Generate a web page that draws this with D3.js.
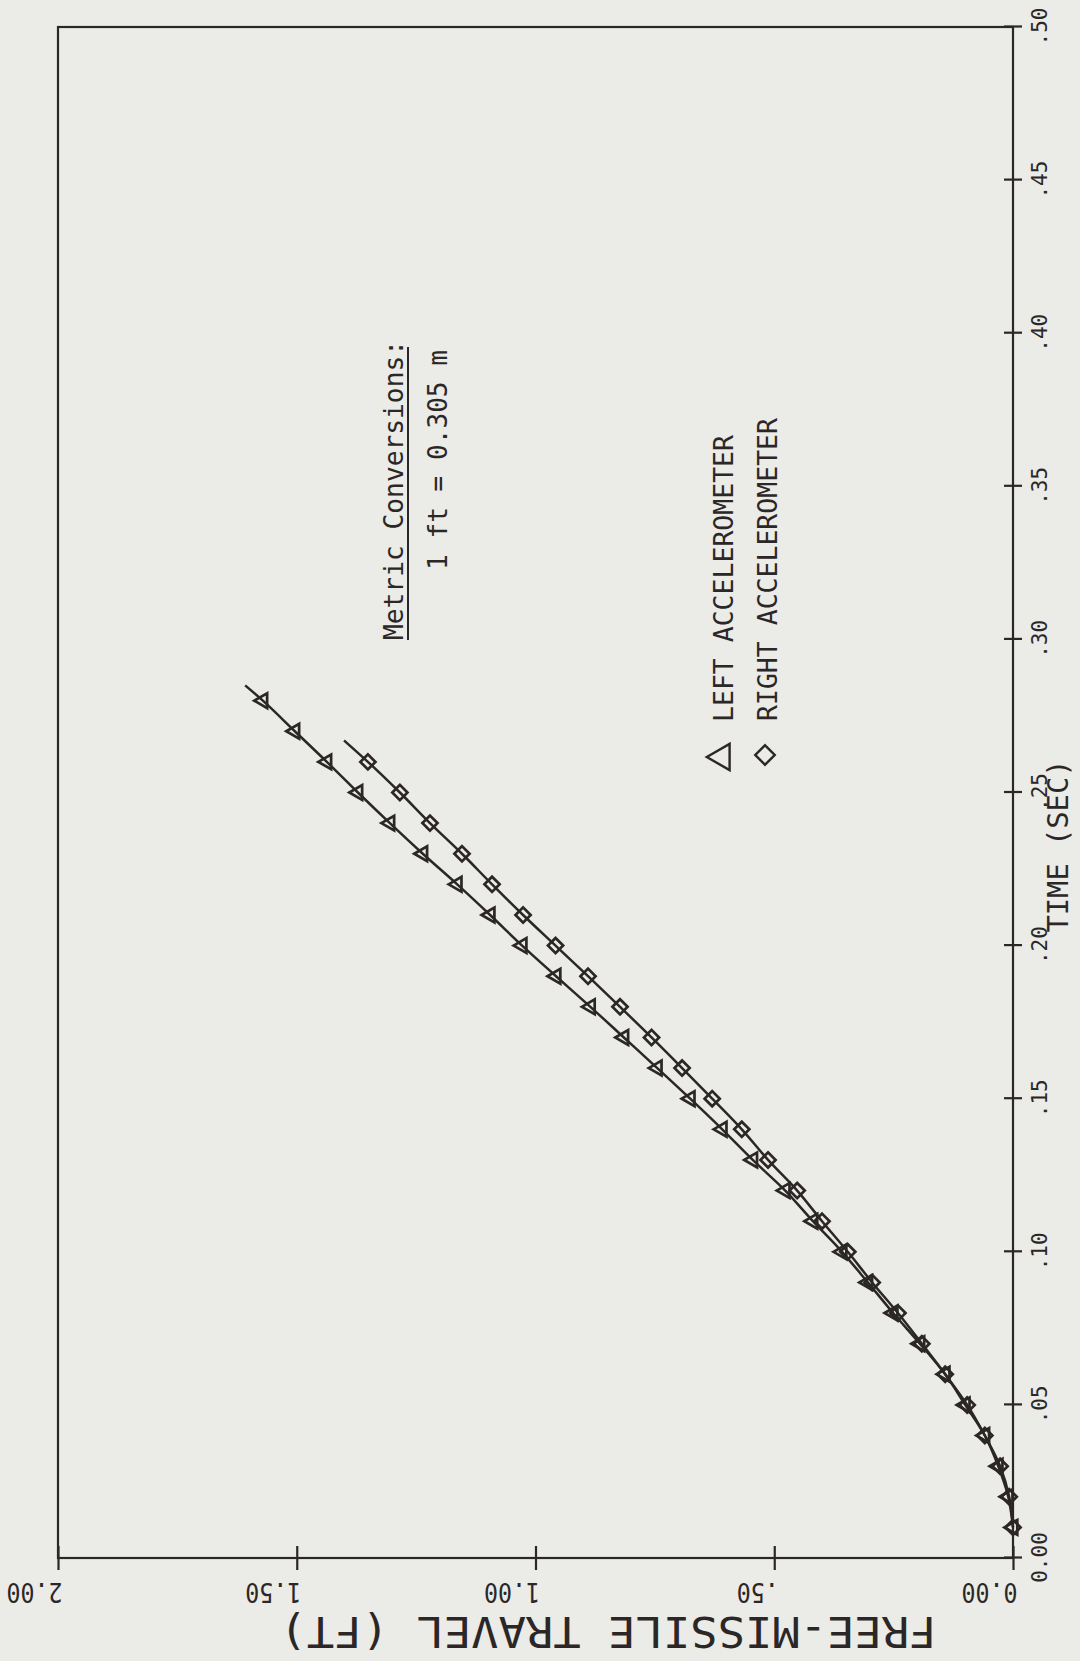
<!DOCTYPE html>
<html>
<head>
<meta charset="utf-8">
<script src="https://cdn.jsdelivr.net/npm/d3@7"></script>
<style>
  html, body { margin: 0; padding: 0; background: #ebebe7; }
  svg { display: block; }
</style>
</head>
<body>
<script>
// Free-missile travel (ft) sampled every 0.01 s
const timeLeft = [0.01,0.02,0.03,0.04,0.05,0.06,0.07,0.08,0.09,0.10,0.11,0.12,0.13,0.14,
                  0.15,0.16,0.17,0.18,0.19,0.20,0.21,0.22,0.23,0.24,0.25,0.26,0.27,0.28];
const travelLeft = [0.000,0.010,0.031,0.059,0.100,0.142,0.195,0.251,0.304,0.358,0.419,0.477,0.545,0.609,
                    0.676,0.745,0.815,0.885,0.957,1.028,1.095,1.164,1.236,1.305,1.372,1.437,1.504,1.571];
const timeRight = [0.01,0.02,0.03,0.04,0.05,0.06,0.07,0.08,0.09,0.10,0.11,0.12,0.13,
                   0.14,0.15,0.16,0.17,0.18,0.19,0.20,0.21,0.22,0.23,0.24,0.25,0.26];
const travelRight = [0.000,0.008,0.027,0.059,0.096,0.142,0.191,0.241,0.295,0.346,0.400,0.452,0.513,
                     0.568,0.630,0.693,0.757,0.823,0.890,0.958,1.026,1.091,1.154,1.221,1.284,1.351];
// where each fitted curve stops, just past its last symbol
const curveEndLeft = [0.285, 1.608];
const curveEndRight = [0.267, 1.401];

const timeTicks = [0,0.05,0.10,0.15,0.20,0.25,0.30,0.35,0.40,0.45,0.50];
const timeTickLabels = ["0.00",".05",".10",".15",".20",".25",".30",".35",".40",".45",".50"];
const travelTicks = [0,0.5,1.0,1.5,2.0];
const travelTickLabels = ["0.00",".50","1.00","1.50","2.00"];
const legendLabels = ["LEFT ACCELEROMETER","RIGHT ACCELEROMETER"];

const W = 1080, H = 1661;
const ink = "#2b2727";
const mono = "'DejaVu Sans Mono', 'Liberation Mono', monospace";

const svg = d3.select("body").append("svg").attr("width", W).attr("height", H);
svg.append("rect").attr("width", W).attr("height", H).attr("fill", "#ebebe7");

// The plot is laid out in landscape and turned a quarter turn counter-clockwise onto the page
const g = svg.append("g").attr("transform", `translate(0,${H}) rotate(-90)`);

const x = d3.scaleLinear().domain([0, 0.5]).range([103, 1634]);
const y = d3.scaleLinear().domain([0, 2]).range([1013, 58]);

// frame
g.append("rect")
  .attr("x", x(0)).attr("y", y(2))
  .attr("width", x(0.5) - x(0)).attr("height", y(0) - y(2))
  .attr("fill", "none").attr("stroke", ink).attr("stroke-width", 2.2);

// time axis
const gx = g.append("g").attr("transform", `translate(0,${y(0)})`)
  .call(d3.axisBottom(x).tickValues(timeTicks)
    .tickFormat((d, i) => timeTickLabels[i]).tickSizeOuter(0));
gx.select(".domain").remove();
gx.selectAll(".tick line").attr("y1", -9).attr("y2", 9)
  .attr("stroke", ink).attr("stroke-width", 2.2);
gx.selectAll(".tick text").attr("y", 34).attr("dy", null)
  .attr("fill", ink).attr("font-family", mono).attr("font-size", 21);

g.append("text").attr("x", 815).attr("y", 1068)
  .attr("text-anchor", "middle").attr("font-family", mono).attr("font-size", 29)
  .attr("fill", ink).attr("textLength", 173).attr("lengthAdjust", "spacingAndGlyphs")
  .text("TIME (SEC)");

// travel axis
const gy = g.append("g").attr("transform", `translate(${x(0)},0)`)
  .call(d3.axisLeft(y).tickValues(travelTicks)
    .tickFormat((d, i) => travelTickLabels[i]).tickSizeOuter(0));
gy.select(".domain").remove();
gy.selectAll(".tick line").attr("x1", -12).attr("x2", 12)
  .attr("stroke", ink).attr("stroke-width", 2.2);
gy.selectAll(".tick text")
  .attr("x", null).attr("dy", null)
  .attr("transform", "translate(-25,4) rotate(-90)")
  .attr("text-anchor", "start")
  .attr("textLength", (d, i) => travelTickLabels[i].length * 14)
  .attr("lengthAdjust", "spacingAndGlyphs")
  .attr("fill", ink).attr("font-family", mono).attr("font-size", 26);

g.append("text").attr("transform", "translate(44,608) rotate(-90)")
  .attr("text-anchor", "middle").attr("font-family", mono).attr("font-size", 42)
  .attr("fill", ink).attr("textLength", 657).attr("lengthAdjust", "spacingAndGlyphs")
  .text("FREE-MISSILE TRAVEL (FT)");

// curves
const line = d3.line().x(d => x(d[0])).y(d => y(d[1])).curve(d3.curveMonotoneX);
const leftPts = timeLeft.map((t, i) => [t, travelLeft[i]]);
const rightPts = timeRight.map((t, i) => [t, travelRight[i]]);

g.append("path").attr("d", line(leftPts.concat([curveEndLeft])))
  .attr("fill", "none").attr("stroke", ink).attr("stroke-width", 2.5);
g.append("path").attr("d", line(rightPts.concat([curveEndRight])))
  .attr("fill", "none").attr("stroke", ink).attr("stroke-width", 2.5);

const tri = d3.symbol().type(d3.symbolTriangle).size(95);
const dia = d3.symbol().type(d3.symbolSquare).size(115);

g.append("g").selectAll("path").data(rightPts).join("path")
  .attr("d", dia)
  .attr("transform", d => `translate(${x(d[0])},${y(d[1])}) rotate(45)`)
  .attr("fill", "none").attr("stroke", ink).attr("stroke-width", 2.7);
g.append("g").selectAll("path").data(leftPts).join("path")
  .attr("d", tri)
  .attr("transform", d => `translate(${x(d[0])},${y(d[1])})`)
  .attr("fill", "none").attr("stroke", ink).attr("stroke-width", 2.7);

// metric conversion note
const noteFont = 27;
g.append("text").attr("x", 1021).attr("y", 403)
  .attr("font-family", mono).attr("font-size", noteFont).attr("fill", ink)
  .attr("textLength", 300).attr("lengthAdjust", "spacingAndGlyphs")
  .text("Metric Conversions:");
g.append("line").attr("x1", 1021).attr("x2", 1314).attr("y1", 408).attr("y2", 408)
  .attr("stroke", ink).attr("stroke-width", 2);
g.append("text").attr("x", 1091).attr("y", 447)
  .attr("font-family", mono).attr("font-size", noteFont).attr("fill", ink)
  .attr("textLength", 220).attr("lengthAdjust", "spacingAndGlyphs")
  .text("1 ft = 0.305 m");

// legend
g.append("path").attr("d", d3.symbol().type(d3.symbolTriangle).size(300))
  .attr("transform", "translate(904,722)")
  .attr("fill", "none").attr("stroke", ink).attr("stroke-width", 2.4);
g.append("path").attr("d", d3.symbol().type(d3.symbolSquare).size(190))
  .attr("transform", "translate(906,765) rotate(45)")
  .attr("fill", "none").attr("stroke", ink).attr("stroke-width", 2.4);
g.append("text").attr("x", 939).attr("y", 733)
  .attr("font-family", mono).attr("font-size", noteFont).attr("fill", ink)
  .attr("textLength", 287).attr("lengthAdjust", "spacingAndGlyphs")
  .text(legendLabels[0]);
g.append("text").attr("x", 940).attr("y", 777)
  .attr("font-family", mono).attr("font-size", noteFont).attr("fill", ink)
  .attr("textLength", 303).attr("lengthAdjust", "spacingAndGlyphs")
  .text(legendLabels[1]);
</script>
</body>
</html>
